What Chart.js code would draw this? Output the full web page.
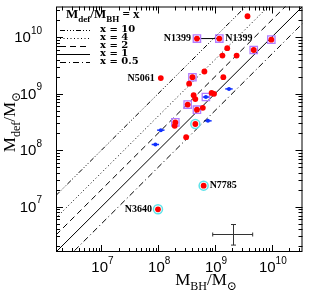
<!DOCTYPE html>
<html>
<head>
<meta charset="utf-8">
<script src="https://cdn.jsdelivr.net/npm/chart.js@4"></script>
<style>
  html, body { margin: 0; padding: 0; background: #fff; }
  canvas { display: block; }
</style>
</head>
<body>
<canvas id="chart" width="309" height="296"></canvas>
<script>
// rango de los ejes (log10)
const axisMinExp = 6.2;
const axisMaxExp = 10.54;
const tickExps = [7, 8, 9, 10];

// lineas M_def = x * M_BH
const ratios = [10, 4, 2, 1, 0.5];
const ratioLabels = ['x = 10', 'x = 4', 'x = 2', 'x = 1', 'x = 0.5'];

// galaxias (puntos rojos)
const redX = [3.73e9, 4.8e8, 1.19e9, 9.8e9, 1.64e9, 4.8e9, 1.35e9, 2.4e9, 6.5e8, 4.0e8, 1.4e9, 3.5e8, 1.11e8,
              8.7e8, 9.6e8, 4.2e8, 4.5e8, 3.3e8, 4.8e8, 6.1e8, 2.0e8, 1.95e8, 4.5e8, 3.1e8, 6.3e8, 9.9e7];
const redY = [2.33e10, 9.4e9, 9.4e9, 9.0e9, 6.35e9, 5.9e9, 4.7e9, 4.7e9, 2.46e9, 1.95e9, 1.95e9, 1.5e9, 1.88e9,
              1.03e9, 9.9e8, 9.4e8, 8.0e8, 6.4e8, 5.2e8, 5.6e8, 3.1e8, 2.7e8, 2.9e8, 1.7e8, 2.36e7, 9.0e6];

// cuadrados violetas
const squareX = [4.8e8, 1.19e9, 9.8e9, 4.8e9, 4.0e8, 3.3e8, 4.8e8, 2.0e8, 6.9e8];
const squareY = [9.4e9, 9.4e9, 9.0e9, 5.9e9, 1.95e9, 6.4e8, 5.2e8, 3.1e8, 8.7e8];

// circulos cian
const cyanX = [4.5e8, 6.3e8, 9.9e7];
const cyanY = [2.9e8, 2.36e7, 9.0e6];

// puntos azules con barra horizontal (dex)
const blueX = [1.76e9, 6.9e8, 7.5e8, 1.11e8, 8.9e7];
const blueY = [1.21e9, 8.7e8, 3.3e8, 2.26e8, 1.26e8];
const blueXerr = [0.065, 0.065, 0.065, 0.065, 0.065];

// nombres
const labelNames = ['N1399', 'N1399', 'N5061', 'N7785', 'N3640'];
const labelX = [4.8e8, 1.19e9, 1.11e8, 6.3e8, 9.9e7];
const labelY = [9.4e9, 9.4e9, 1.88e9, 2.36e7, 9.0e6];
const labelSide = ['left', 'right', 'left', 'right', 'left'];

// barra de error tipica
const refX = 2.1e9, refXlo = 9.1e8, refXhi = 4.6e9;
const refY = 3.3e6, refYlo = 2.1e6, refYhi = 4.85e6;

const axisMin = Math.pow(10, axisMinExp);
const axisMax = Math.pow(10, axisMaxExp);
const ratioDash = [[5, 2, 1, 2, 1, 2, 1, 2], [1, 2.5], [6, 4], [], [6, 3, 1, 3]];

const toPts = (xs, ys) => xs.map((v, i) => ({ x: v, y: ys[i] }));

const datasets = ratios.map((r, i) => ({
    data: [{ x: axisMin, y: axisMin * r }, { x: axisMax, y: axisMax * r }],
    showLine: true, pointRadius: 0, borderColor: '#000', borderWidth: 1,
    borderDash: ratioDash[i], order: 10
}));
datasets.push({
    data: [{ x: labelX[0], y: labelY[0] }, { x: labelX[1], y: labelY[1] }],
    showLine: true, pointRadius: 0, borderColor: '#000', borderWidth: 1, order: 9
});
datasets.push({
    data: toPts(squareX, squareY), pointStyle: 'rect', pointRadius: 5.2,
    backgroundColor: 'rgba(0,0,0,0)', borderColor: '#b27cff', borderWidth: 1.3, order: 5
});
datasets.push({
    data: toPts(cyanX, cyanY), pointStyle: 'circle', pointRadius: 4.5,
    backgroundColor: 'rgba(0,0,0,0)', borderColor: '#5fe3ea', borderWidth: 1.5, order: 4
});
datasets.push({
    data: toPts(redX, redY), pointStyle: 'circle', pointRadius: 2.9,
    backgroundColor: '#ff0000', borderWidth: 0, order: 2
});
datasets.push({
    data: toPts(blueX, blueY), pointStyle: 'circle', pointRadius: 2,
    backgroundColor: '#1030ff', borderWidth: 0, order: 1
});

function drawPower(ctx, exp, x, y, align) {
    ctx.font = '15px "Liberation Sans"';
    const w1 = ctx.measureText('10').width;
    ctx.font = '10px "Liberation Sans"';
    const w2 = ctx.measureText(String(exp)).width;
    let x0 = align === 'center' ? x - (w1 + w2) / 2 : x - w1 - w2;
    ctx.textAlign = 'left';
    ctx.textBaseline = 'middle';
    ctx.font = '15px "Liberation Sans"';
    ctx.fillText('10', x0, y);
    ctx.font = '10px "Liberation Sans"';
    ctx.fillText(String(exp), x0 + w1, y - 7);
}

// texto con subindices: parts = [[texto, esSub], ...]
function richWidth(ctx, parts, size, weight) {
    let w = 0;
    for (const [t, sub] of parts) {
        ctx.font = weight + ' ' + (sub ? Math.round(size * 0.68) : size) + 'px "Liberation Serif", "DejaVu Serif"';
        w += ctx.measureText(t).width;
    }
    return w;
}
function drawRich(ctx, parts, x, y, size, weight) {
    let cx = x;
    ctx.textAlign = 'left';
    ctx.textBaseline = 'alphabetic';
    for (const [t, sub] of parts) {
        ctx.font = weight + ' ' + (sub ? Math.round(size * 0.68) : size) + 'px "Liberation Serif", "DejaVu Serif"';
        ctx.fillText(t, cx, sub ? y + size * 0.3 : y);
        cx += ctx.measureText(t).width;
    }
}

const decorations = {
    id: 'decorations',
    beforeDatasetsDraw(chart) {
        const { ctx, scales: { x, y } } = chart;
        ctx.save();
        // barras azules
        ctx.strokeStyle = '#1030ff';
        ctx.lineWidth = 1.5;
        blueX.forEach((v, i) => {
            const py = y.getPixelForValue(blueY[i]);
            ctx.beginPath();
            ctx.moveTo(x.getPixelForValue(v / Math.pow(10, blueXerr[i])), py);
            ctx.lineTo(x.getPixelForValue(v * Math.pow(10, blueXerr[i])), py);
            ctx.stroke();
        });
        // barra de error tipica
        ctx.strokeStyle = '#333';
        ctx.lineWidth = 1;
        const cx = Math.round(x.getPixelForValue(refX)) + 0.5;
        const cy = Math.round(y.getPixelForValue(refY)) + 0.5;
        const xl = x.getPixelForValue(refXlo), xh = x.getPixelForValue(refXhi);
        const yl = y.getPixelForValue(refYlo), yh = y.getPixelForValue(refYhi);
        ctx.beginPath();
        ctx.moveTo(xl, cy); ctx.lineTo(xh, cy);
        ctx.moveTo(xl, cy - 2); ctx.lineTo(xl, cy + 2);
        ctx.moveTo(xh, cy - 2); ctx.lineTo(xh, cy + 2);
        ctx.moveTo(cx, yl); ctx.lineTo(cx, yh);
        ctx.moveTo(cx - 2.5, yl); ctx.lineTo(cx + 2.5, yl);
        ctx.moveTo(cx - 2.5, yh); ctx.lineTo(cx + 2.5, yh);
        ctx.stroke();
        ctx.restore();
    },
    afterDatasetsDraw(chart) {
        const { ctx, chartArea: a, scales: { x, y } } = chart;
        ctx.save();
        ctx.strokeStyle = '#000';
        ctx.fillStyle = '#000';
        ctx.lineWidth = 1;
        ctx.strokeRect(a.left + 0.5, a.top + 0.5, a.right - a.left - 1, a.bottom - a.top - 1);

        // marcas hacia dentro en los cuatro lados
        ctx.beginPath();
        for (let e = 6; e <= 10; e++) {
            for (let m = 1; m <= 9; m++) {
                const v = m * Math.pow(10, e);
                if (v < axisMin || v > axisMax) continue;
                const len = m === 1 ? 7 : 4;
                const px = Math.round(x.getPixelForValue(v)) + 0.5;
                const py = Math.round(y.getPixelForValue(v)) + 0.5;
                ctx.moveTo(px, a.bottom); ctx.lineTo(px, a.bottom - len);
                ctx.moveTo(px, a.top); ctx.lineTo(px, a.top + len);
                ctx.moveTo(a.left, py); ctx.lineTo(a.left + len, py);
                ctx.moveTo(a.right, py); ctx.lineTo(a.right - len, py);
            }
        }
        ctx.stroke();

        // etiquetas de los ejes
        tickExps.forEach(e => {
            const v = Math.pow(10, e);
            drawPower(ctx, e, x.getPixelForValue(v) + 1, a.bottom + 16, 'center');
            drawPower(ctx, e, a.left - 14, y.getPixelForValue(v) + 1, 'right');
        });

        // titulos
        const xTitle = [['M', false], ['BH', true], ['/M', false], ['\u2299', true]];
        const yTitle = [['M', false], ['def', true], ['/M', false], ['\u2299', true]];
        const wx = richWidth(ctx, xTitle, 17, 'normal');
        drawRich(ctx, xTitle, 206 - wx / 2, 285, 17, 'normal');
        ctx.save();
        ctx.translate(15, 122);
        ctx.rotate(-Math.PI / 2);
        const wy = richWidth(ctx, yTitle, 17, 'normal');
        drawRich(ctx, yTitle, -wy / 2, 0, 17, 'normal');
        ctx.restore();

        // leyenda
        const legTitle = [['M', false], ['def', true], ['/M', false], ['BH', true], [' = x', false]];
        drawRich(ctx, legTitle, 66, 18, 13, 'bold');
        const rowY = [29.5, 37.5, 45.5, 53.5, 61.5];
        ratios.forEach((r, i) => {
            ctx.setLineDash(ratioDash[i]);
            ctx.beginPath();
            ctx.moveTo(60, Math.round(rowY[i]) + 0.5);
            ctx.lineTo(90, Math.round(rowY[i]) + 0.5);
            ctx.stroke();
            ctx.setLineDash([]);
            ctx.font = 'bold 10px "DejaVu Serif"';
            ctx.textAlign = 'left';
            ctx.textBaseline = 'middle';
            ctx.fillText(ratioLabels[i], 100, rowY[i]);
        });

        // nombres de galaxias
        ctx.font = 'bold 10px "Liberation Serif"';
        ctx.textBaseline = 'middle';
        labelNames.forEach((n, i) => {
            const px = x.getPixelForValue(labelX[i]);
            const py = y.getPixelForValue(labelY[i]);
            if (labelSide[i] === 'left') {
                ctx.textAlign = 'right';
                ctx.fillText(n, px - 6, py);
            } else {
                ctx.textAlign = 'left';
                ctx.fillText(n, px + 6, py);
            }
        });
        ctx.restore();
    }
};

new Chart(document.getElementById('chart'), {
    type: 'scatter',
    data: { datasets },
    options: {
        responsive: false,
        animation: false,
        devicePixelRatio: 1,
        layout: { padding: { top: 4, right: 4, left: 0, bottom: 0 } },
        plugins: { legend: { display: false }, tooltip: { enabled: false } },
        scales: {
            x: {
                type: 'logarithmic', min: axisMin, max: axisMax,
                grid: { display: false }, border: { display: false },
                ticks: { display: false },
                afterFit(scale) { scale.height = 44; }
            },
            y: {
                type: 'logarithmic', min: axisMin, max: axisMax,
                grid: { display: false }, border: { display: false },
                ticks: { display: false },
                afterFit(scale) { scale.width = 56; }
            }
        }
    },
    plugins: [decorations]
});
</script>
</body>
</html>
